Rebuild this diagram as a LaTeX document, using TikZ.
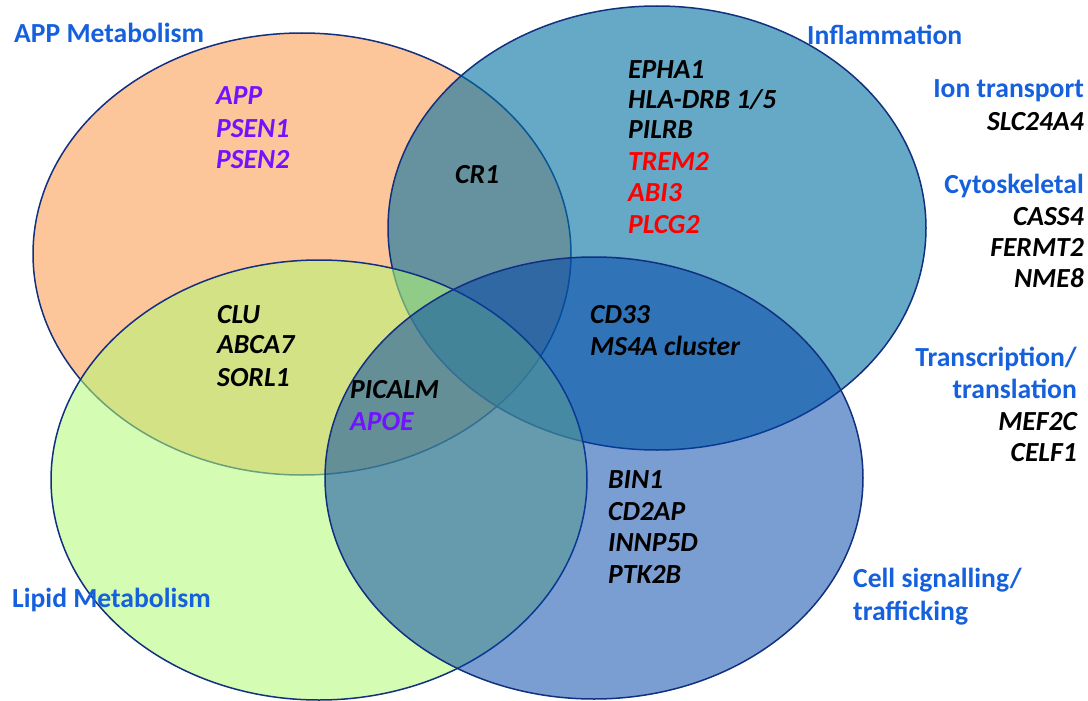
\documentclass[tikz,border=0pt]{standalone}
\usepackage{fontspec}
\setmainfont{Carlito}
\definecolor{orangefill}{RGB}{253,197,154}
\definecolor{bluetopfill}{RGB}{0,112,162}
\definecolor{greenfill}{RGB}{178,250,118}
\definecolor{bluebotfill}{RGB}{0,67,169}
\definecolor{edge}{RGB}{18,48,128}
\definecolor{catblue}{RGB}{21,96,220}
\definecolor{genepurple}{RGB}{112,20,255}
\definecolor{genered}{RGB}{255,0,0}
\tikzset{
  setellipse/.style={draw=edge, line width=1.5pt},
  cat/.style={inner sep=0pt, font=\fontsize{27.6}{31.5}\selectfont\bfseries, text=catblue},
  gene/.style={inner sep=0pt, font=\fontsize{27.6}{31.5}\selectfont\bfseries\itshape, text=black},
  pgene/.style={gene, text=genepurple},
  rgene/.style={gene, text=genered}
}
\begin{document}
\begin{tikzpicture}[x=1pt,y=-1pt]
\useasboundingbox (0,0) rectangle (1088,701);
% sets
\draw[setellipse, fill=orangefill] (302,254) ellipse [x radius=269pt, y radius=221pt];
\draw[setellipse, fill=bluetopfill, fill opacity=0.6] (657,228) ellipse [x radius=269pt, y radius=222pt];
\draw[setellipse, fill=greenfill, fill opacity=0.56] (319,480) ellipse [x radius=268pt, y radius=220pt];
\draw[setellipse, fill=bluebotfill, fill opacity=0.52] (594,478) ellipse [x radius=269pt, y radius=221pt];
% category labels
\node[cat, anchor=base west] (appmet) at (14,43) {APP Metabolism};
\node[cat, anchor=base west] (infl) at (807,45) {Inflammation};
\node[cat, anchor=base east] (iont) at (1084,98) {Ion transport};
\node[gene, anchor=base east] (slc) at (1084,130) {SLC24A4};
\node[cat, anchor=base east] (cyto) at (1084,193) {Cytoskeletal};
\node[gene, anchor=base east] (cass) at (1084,225) {CASS4};
\node[gene, anchor=base east] (fermt) at (1084,256) {FERMT2};
\node[gene, anchor=base east] (nme) at (1084,287) {NME8};
\node[cat, anchor=base east] (trans1) at (1077,366) {Transcription/};
\node[cat, anchor=base east] (trans2) at (1077,398) {translation};
\node[gene, anchor=base east] (mef) at (1077,430) {MEF2C};
\node[gene, anchor=base east] (celf) at (1077,461) {CELF1};
\node[cat, anchor=base west] (cell1) at (853,587) {Cell signalling/};
\node[cat, anchor=base west] (cell2) at (853,620) {trafficking};
\node[cat, anchor=base west] (lipid) at (12,607) {Lipid Metabolism};
% genes
\node[pgene, anchor=base west] (app) at (216,105) {APP};
\node[pgene, anchor=base west] (psen1) at (216,138) {PSEN1};
\node[pgene, anchor=base west] (psen2) at (216,168) {PSEN2};
\node[gene, anchor=base west] (cr1) at (455,183) {CR1};
\node[gene, anchor=base west] (epha) at (628,78) {EPHA1};
\node[gene, anchor=base west] (hla) at (628,108) {HLA-DRB 1/5};
\node[gene, anchor=base west] (pilrb) at (628,139) {PILRB};
\node[rgene, anchor=base west] (trem) at (628,170) {TREM2};
\node[rgene, anchor=base west] (abi) at (628,201) {ABI3};
\node[rgene, anchor=base west] (plcg) at (628,233) {PLCG2};
\node[gene, anchor=base west] (clu) at (217,323) {CLU};
\node[gene, anchor=base west] (abca) at (217,353) {ABCA7};
\node[gene, anchor=base west] (sorl) at (217,386) {SORL1};
\node[gene, anchor=base west] (picalm) at (350,398) {PICALM};
\node[pgene, anchor=base west] (apoe) at (350,430) {APOE};
\node[gene, anchor=base west] (cd33) at (590,323) {CD33};
\node[gene, anchor=base west] (ms4a) at (590,355) {MS4A cluster};
\node[gene, anchor=base west] (bin) at (608,488) {BIN1};
\node[gene, anchor=base west] (cd2ap) at (608,520) {CD2AP};
\node[gene, anchor=base west] (innp) at (608,551) {INNP5D};
\node[gene, anchor=base west] (ptk) at (608,583) {PTK2B};
\end{tikzpicture}
\end{document}
